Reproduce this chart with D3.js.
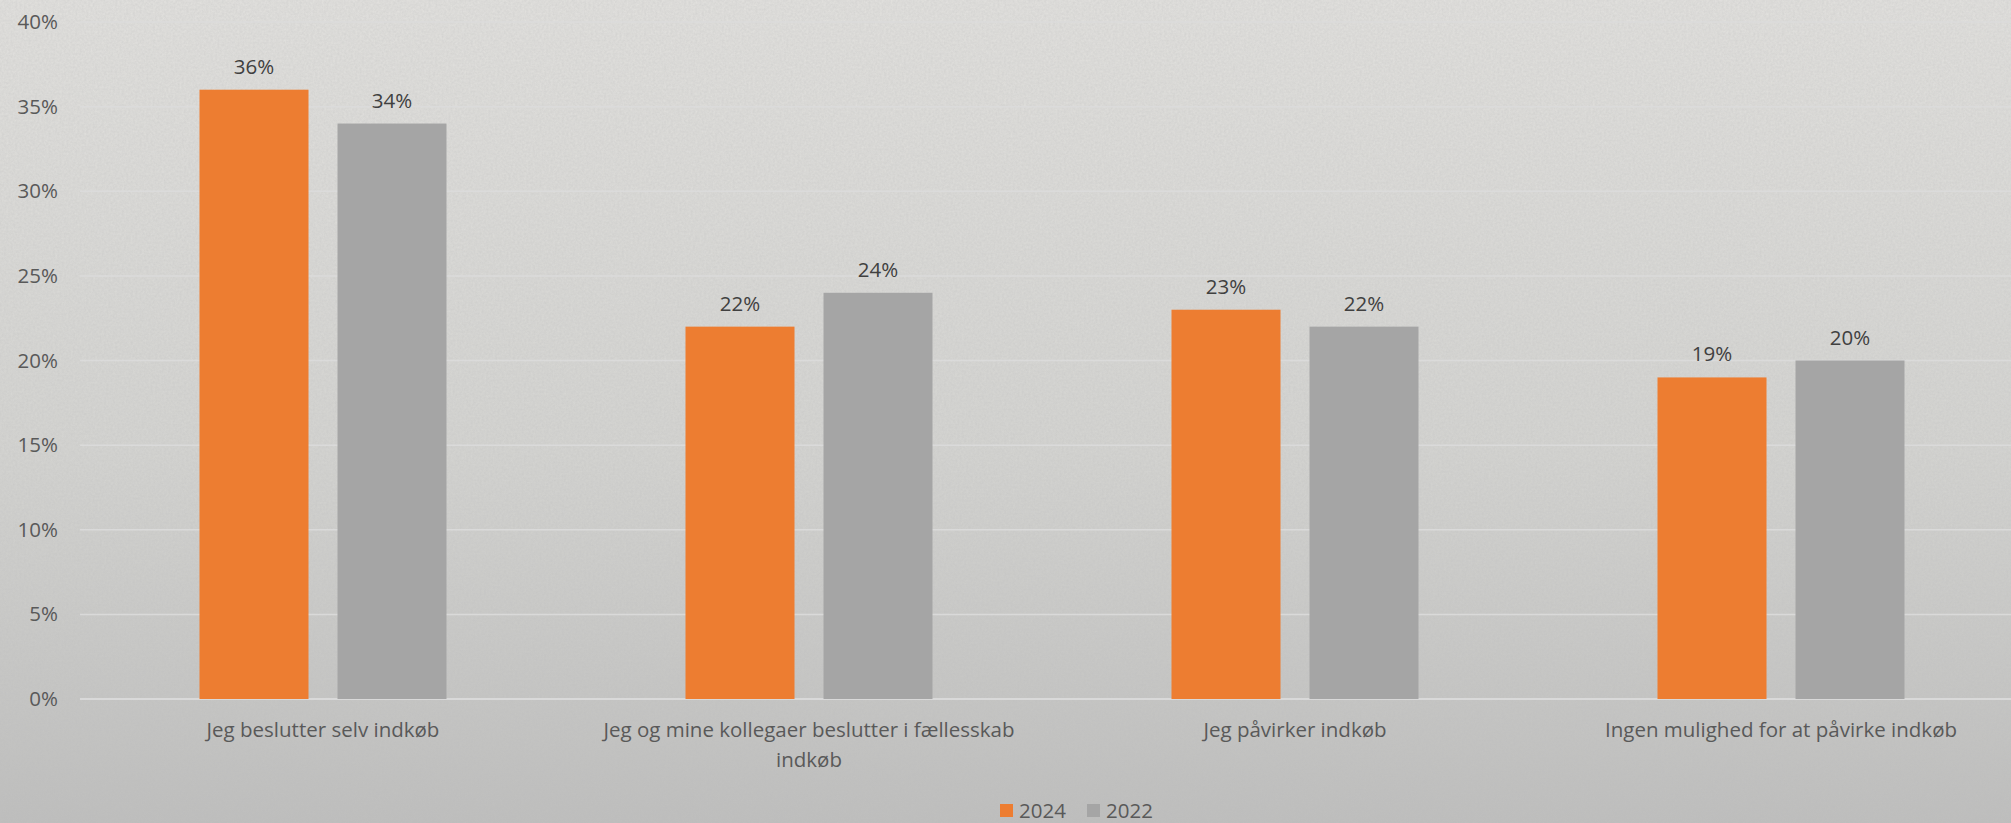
<!DOCTYPE html>
<html><head><meta charset="utf-8">
<script src="https://cdn.jsdelivr.net/npm/d3@7"></script>
<style>html,body{margin:0;padding:0;overflow:hidden;background:#d6d5d2}</style>
</head><body>
<script>
const categories = ["Jeg beslutter selv indkøb", "Jeg og mine kollegaer beslutter i fællesskab indkøb", "Jeg påvirker indkøb", "Ingen mulighed for at påvirke indkøb"];
const categoryLines = [["Jeg beslutter selv indkøb"], ["Jeg og mine kollegaer beslutter i fællesskab", "indkøb"], ["Jeg påvirker indkøb"], ["Ingen mulighed for at påvirke indkøb"]];
const seriesNames = ["2024", "2022"];
const values2024 = [36, 22, 23, 19];
const values2022 = [34, 24, 22, 20];
const yTicks = [0, 5, 10, 15, 20, 25, 30, 35, 40];
const colors = ["#ed7d31", "#a5a5a5"];

const W = 2011, H = 823;
const FS = 20.5;
const FONT = "'Open Sans', sans-serif";
const svg = d3.select("body").append("svg").attr("width", W).attr("height", H);
const defs = svg.append("defs");
const g = defs.append("linearGradient").attr("id","bg").attr("x1",0).attr("y1",0).attr("x2",0).attr("y2",1);
g.append("stop").attr("offset","0%").attr("stop-color","#e3e2df");
g.append("stop").attr("offset","55%").attr("stop-color","#d5d5d2");
g.append("stop").attr("offset","100%").attr("stop-color","#bebebd");
const f = defs.append("filter").attr("id","noise").attr("x",0).attr("y",0).attr("width","100%").attr("height","100%");
f.append("feTurbulence").attr("type","fractalNoise").attr("baseFrequency","0.45").attr("numOctaves",3).attr("seed",4).attr("result","n");
f.append("feColorMatrix").attr("type","matrix").attr("values","0 0 0 0 0.5  0 0 0 0 0.5  0 0 0 0 0.5  0 0 0 0.55 0");
svg.append("rect").attr("width",W).attr("height",H).attr("fill","url(#bg)");
svg.append("rect").attr("width",W).attr("height",H).attr("filter","url(#noise)").attr("opacity",0.7);

const x0 = d3.scaleBand().domain(categories).range([80, 2024]).paddingInner(0).paddingOuter(0);
const y = d3.scaleLinear().domain([0, 40]).range([699, 22]);
const groupW = 247;
const x1 = d3.scaleBand().domain(seriesNames).range([0, groupW]).paddingInner(29/138).paddingOuter(0);

// gridlines
svg.append("g").selectAll("line").data(yTicks).join("line")
  .attr("x1", 80).attr("x2", W).attr("y1", d => y(d)).attr("y2", d => y(d))
  .attr("stroke", "#dcdcdc").attr("stroke-width", d => d===0?2:1.5).attr("opacity", 0.9);

// y axis labels
const yAxis = d3.axisLeft(y).tickValues(yTicks).tickFormat(d => d + "%").tickSize(0).tickPadding(0);
const ya = svg.append("g").attr("transform","translate(58,0)").call(yAxis);
ya.select(".domain").remove();
ya.selectAll("text").attr("font-family", FONT).attr("font-size", FS).attr("fill","#595959");

const data = [values2024, values2022];
const grp = svg.append("g").selectAll("g").data(categories).join("g")
  .attr("transform", (c) => `translate(${x0(c) + (x0.bandwidth() - groupW)/2},0)`);
grp.each(function(c, i) {
  const sel = d3.select(this);
  seriesNames.forEach((s, si) => {
    const v = data[si][i];
    sel.append("rect").attr("x", x1(s)).attr("width", x1.bandwidth())
      .attr("y", y(v)).attr("height", y(0) - y(v)).attr("fill", colors[si]);
    sel.append("text").attr("x", x1(s) + x1.bandwidth()/2).attr("y", y(v) - 16)
      .attr("text-anchor","middle").attr("font-family", FONT).attr("font-size", FS)
      .attr("fill","#404040").text(v + "%");
  });
});

// category labels
const xl = svg.append("g").selectAll("text").data(categories).join("text")
  .attr("x", c => x0(c) + x0.bandwidth()/2).attr("y", 737)
  .attr("text-anchor","middle").attr("font-family", FONT).attr("font-size", FS).attr("fill","#595959");
xl.each(function(c, i) {
  d3.select(this).selectAll("tspan").data(categoryLines[i]).join("tspan")
    .attr("x", x0(c) + x0.bandwidth()/2).attr("dy", (d, j) => j === 0 ? 0 : 30).text(d => d);
});

// legend
const leg = svg.append("g");
const legX = [1000, 1087];
seriesNames.forEach((s, si) => {
  leg.append("rect").attr("x", legX[si]).attr("y", 804).attr("width", 13).attr("height", 13).attr("fill", colors[si]);
  leg.append("text").attr("x", legX[si] + 19).attr("y", 818).attr("font-family", FONT)
    .attr("font-size", FS).attr("fill","#595959").text(s);
});
</script>
</body></html>
